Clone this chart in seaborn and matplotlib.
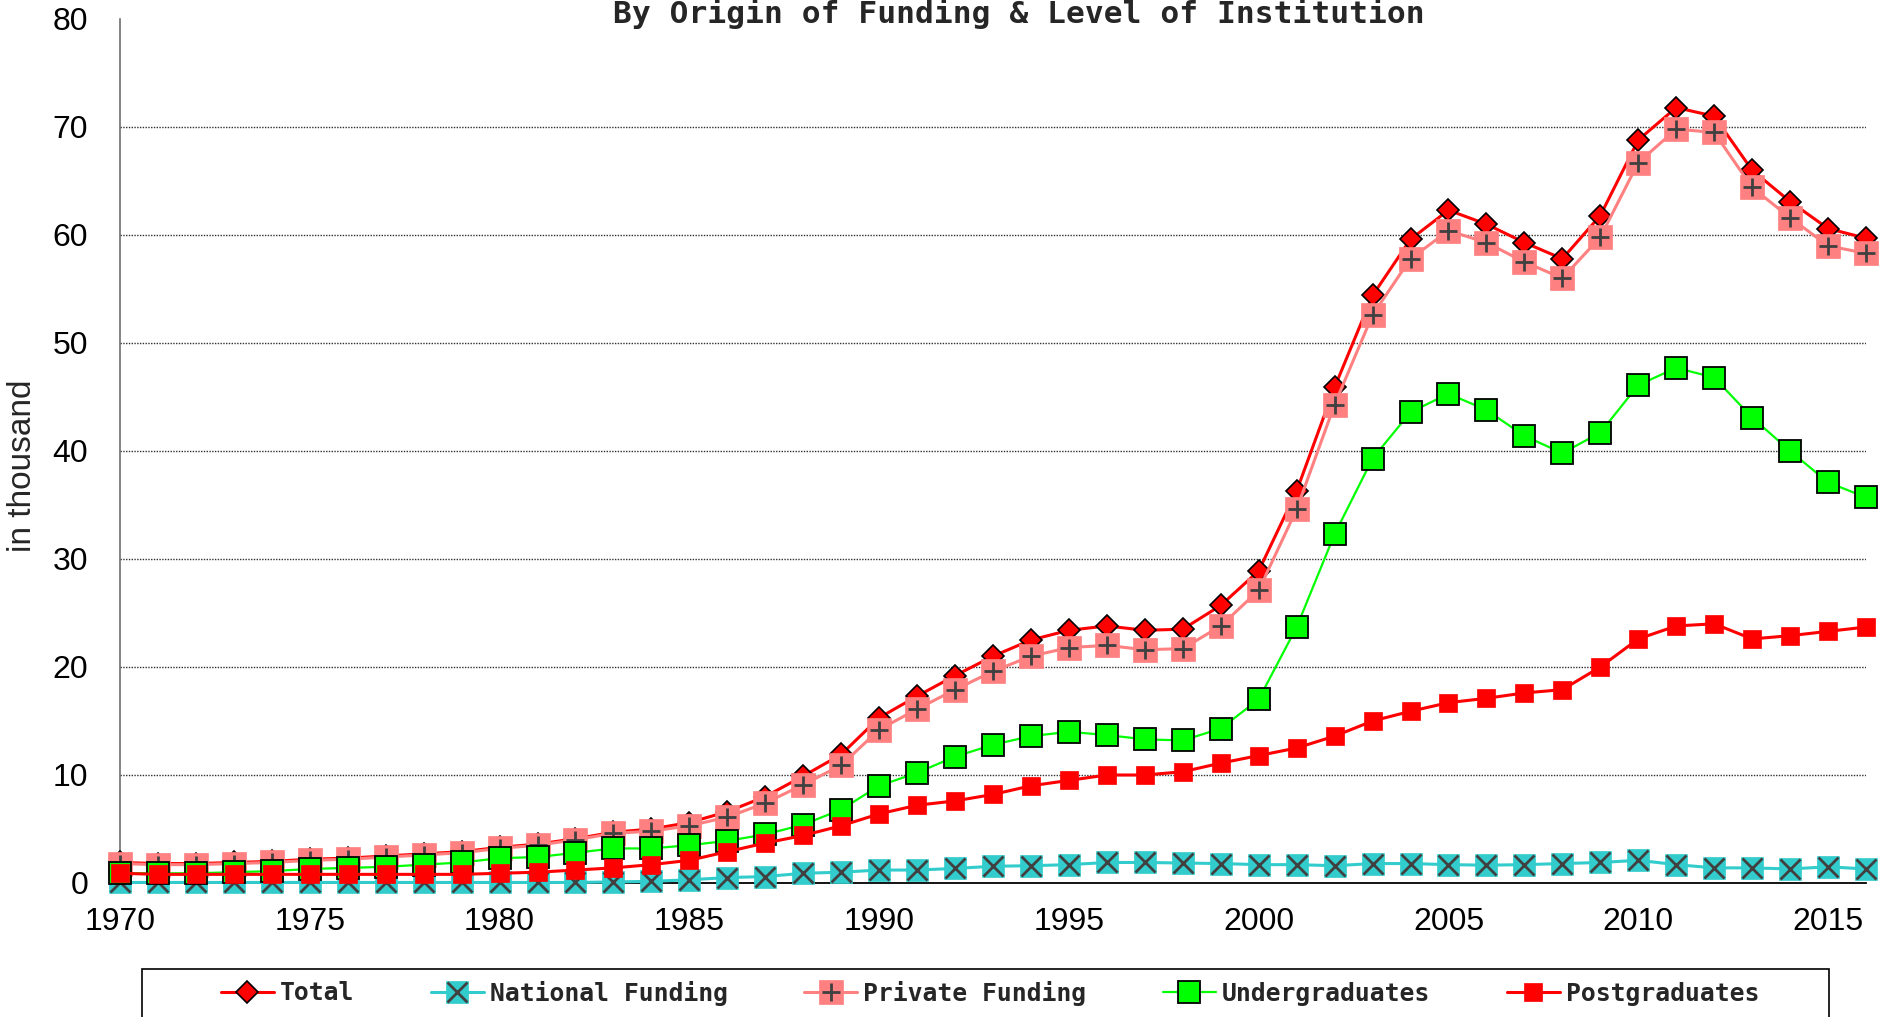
"""Funding / institution level chart, 1970-2016 (values in thousand)."""

import matplotlib
matplotlib.use("Agg")
import matplotlib.pyplot as plt
import pandas as pd
import seaborn as sns
from matplotlib.legend_handler import HandlerTuple
from matplotlib.patches import Rectangle

years = list(range(1970, 2017))

total = [1.9, 1.8, 1.8, 1.9, 2.0, 2.2, 2.3, 2.5, 2.7, 2.9,
         3.3, 3.6, 4.1, 4.7, 5.0, 5.6, 6.6, 8.0, 9.9, 11.9,
         15.3, 17.3, 19.2, 21.0, 22.5, 23.4, 23.8, 23.4, 23.5, 25.7,
         28.9, 36.3, 45.9, 54.4, 59.6, 62.3, 61.0, 59.3, 57.8, 61.8,
         68.8, 71.8, 71.0, 66.0, 63.1, 60.6, 59.7]
national = [0.05, 0.05, 0.05, 0.05, 0.05, 0.05, 0.05, 0.05, 0.05, 0.05,
            0.05, 0.05, 0.05, 0.1, 0.15, 0.3, 0.5, 0.6, 0.9, 1.0,
            1.2, 1.2, 1.35, 1.55, 1.6, 1.7, 1.9, 1.9, 1.85, 1.8,
            1.7, 1.7, 1.6, 1.8, 1.8, 1.7, 1.65, 1.7, 1.8, 1.9,
            2.1, 1.7, 1.4, 1.4, 1.3, 1.5, 1.3]
private = [1.8, 1.7, 1.7, 1.8, 1.9, 2.1, 2.2, 2.4, 2.6, 2.8,
           3.2, 3.5, 4.0, 4.6, 4.8, 5.3, 6.1, 7.4, 9.1, 10.9,
           14.2, 16.1, 17.9, 19.6, 21.0, 21.8, 22.0, 21.6, 21.7, 23.8,
           27.1, 34.6, 44.3, 52.6, 57.8, 60.4, 59.3, 57.5, 56.0, 59.8,
           66.7, 69.8, 69.5, 64.4, 61.6, 59.0, 58.3]
undergrad = [0.9, 0.9, 0.9, 1.0, 1.1, 1.3, 1.4, 1.5, 1.7, 1.9,
             2.3, 2.4, 2.8, 3.2, 3.2, 3.5, 3.9, 4.5, 5.4, 6.8,
             9.0, 10.2, 11.7, 12.8, 13.6, 14.0, 13.7, 13.3, 13.2, 14.3,
             17.0, 23.7, 32.3, 39.3, 43.6, 45.3, 43.8, 41.4, 39.8, 41.7,
             46.1, 47.7, 46.8, 43.1, 40.0, 37.1, 35.7]
postgrad = [0.9, 0.8, 0.8, 0.8, 0.8, 0.8, 0.8, 0.8, 0.8, 0.8,
            0.9, 1.0, 1.2, 1.4, 1.7, 2.1, 2.9, 3.7, 4.4, 5.3,
            6.4, 7.2, 7.6, 8.2, 9.0, 9.5, 10.0, 10.0, 10.3, 11.1,
            11.8, 12.5, 13.6, 15.0, 15.9, 16.7, 17.1, 17.6, 17.9, 20.0,
            22.6, 23.8, 24.0, 22.6, 22.9, 23.3, 23.7]

labels = ["Total", "National Funding", "Private Funding",
          "Undergraduates", "Postgraduates"]
y_ticks = [0, 10, 20, 30, 40, 50, 60, 70, 80]
x_major = list(range(1970, 2016, 5))

df = pd.DataFrame({"year": years, "total": total, "national": national,
                   "private": private, "undergrad": undergrad,
                   "postgrad": postgrad})

sns.set_theme(style="white")
plt.rcParams["font.family"] = ["Liberation Sans", "DejaVu Sans"]

W, H = 1884, 1017
fig = plt.figure(figsize=(W / 100, H / 100), dpi=100)
ax = fig.add_axes([120 / W, 1 - 883 / H, (1866 - 120) / W, (883 - 19) / H])

mono = "DejaVu Sans Mono"
common = dict(data=df, x="year", ax=ax, clip_on=False)

sns.lineplot(y="total", color="#FF0000", lw=2.2, marker="D", markersize=11,
             mfc="#FF0000", mec="black", mew=1.2, zorder=3, **common)
h_total = ax.lines[-1]

sns.lineplot(y="national", color="#33CCCC", lw=2.2, marker="s", markersize=16.5,
             mfc="#33CCCC", mec="#33CCCC", mew=0.5, zorder=4, **common)
h_nat = ax.lines[-1]
sns.lineplot(y="national", color="#404040", linestyle="", marker="x",
             markersize=14, mec="#404040", mew=2, zorder=4.1, **common)
h_nat_x = ax.lines[-1]

sns.lineplot(y="private", color="#FF8080", lw=2.2, marker="s", markersize=17.5,
             mfc="#FF8080", mec="#FF8080", mew=0.5, zorder=5, **common)
h_priv = ax.lines[-1]
sns.lineplot(y="private", color="#404040", linestyle="", marker="+",
             markersize=13, mec="#404040", mew=2, zorder=5.1, **common)
h_priv_p = ax.lines[-1]

sns.lineplot(y="undergrad", color="#00FF00", lw=1.6, marker="s", markersize=16,
             mfc="#00FF00", mec="black", mew=1.3, zorder=6, **common)
h_under = ax.lines[-1]

sns.lineplot(y="postgrad", color="#FF0000", lw=2.2, marker="s", markersize=13,
             mfc="#FF0000", mec="#FF0000", mew=0.5, zorder=7, **common)
h_post = ax.lines[-1]

ax.set_xlim(1970, 2016)
ax.set_ylim(0, 80)
ax.set_yticks(y_ticks)
ax.set_xticks(x_major)
ax.set_xticks(years, minor=True)
ax.set_xlabel("")
ax.set_ylabel("")
ax.grid(False)
for v in y_ticks[1:-1]:
    ax.axhline(v, color="#303030", lw=1.0, linestyle=(0, (1, 1)), zorder=1)

for s in ["top", "right"]:
    ax.spines[s].set_visible(False)
ax.spines["left"].set_color("#707070")
ax.spines["left"].set_linewidth(1.2)
ax.spines["bottom"].set_color("black")
ax.spines["bottom"].set_linewidth(1.3)
ax.spines["bottom"].set_zorder(2)

ax.tick_params(axis="y", direction="in", length=7, width=1, color="#707070",
               pad=23, labelsize=23, labelcolor="black")
ax.tick_params(axis="x", which="both", direction="in", length=4, width=1,
               color="black", pad=17, labelsize=23, labelcolor="black")

fig.text(23 / W, 1 - 466 / H, "in thousand", rotation=90, ha="center",
         va="center", fontsize=24)
fig.text(1019 / W, 1 - 23 / H, "By Origin of Funding & Level of Institution",
         ha="center", va="baseline", family=mono, fontweight="bold",
         fontsize=22.5)

handles = [h_total, (h_nat, h_nat_x), (h_priv, h_priv_p), h_under, h_post]
fig.legend(handles, labels, loc="center left",
           bbox_to_anchor=(221 / W, 1 - 993 / H), ncol=5, frameon=False,
           borderpad=0, borderaxespad=0, handlelength=2.14,
           handletextpad=0.24, columnspacing=3.1,
           prop={"family": mono, "size": 17.8, "weight": "bold"},
           handler_map={tuple: HandlerTuple(ndivide=1, pad=0)})

top = 1 - 969 / H
fig.add_artist(Rectangle((142 / W, -0.05), (1829 - 142) / W, top + 0.05,
                         transform=fig.transFigure, fill=False,
                         ec="black", lw=1.2))

fig.savefig("out.png", dpi=100)
